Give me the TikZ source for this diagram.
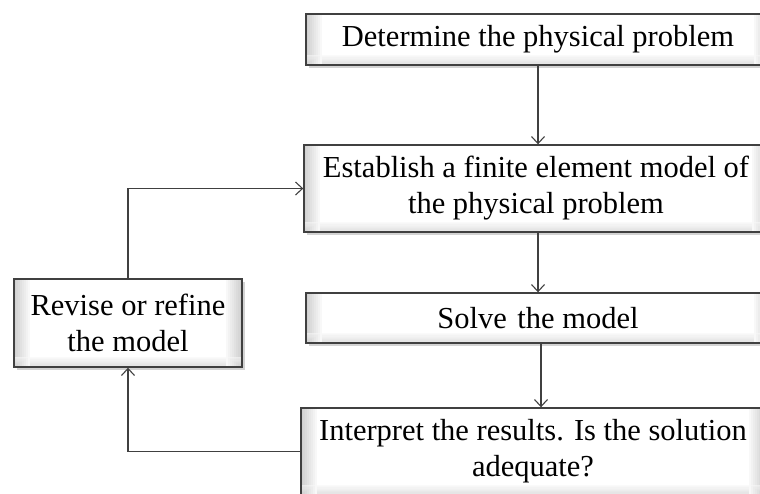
\documentclass[tikz,border=0pt]{standalone}
\usepackage{fontspec}
\setmainfont{Liberation Serif}
\usepackage{tikz}
\usetikzlibrary{arrows.meta,positioning,calc,shadows}
\definecolor{lncol}{RGB}{64,64,64}
\definecolor{bvl}{RGB}{208,208,208}
\tikzset{
  fbox/.style={draw=lncol, line width=1.4pt, fill=white,
      align=center, font=\fontsize{30.5}{36}\selectfont, inner sep=0pt,
      drop shadow={shadow xshift=2.5pt, shadow yshift=-3pt, opacity=0.35},
      path picture={
        % bevel: left, right and bottom edges fade to white
        \foreach \i [evaluate=\i as \c using int(100-12*\i)] in {0,...,7}{
          \fill[bvl!\c] ([xshift=2*\i pt]path picture bounding box.south west)
            rectangle ([xshift=2*\i pt+2pt]path picture bounding box.north west);
          \fill[bvl!\c] ([xshift=-2*\i pt]path picture bounding box.south east)
            rectangle ([xshift=-2*\i pt-2pt]path picture bounding box.north east);
          \fill[bvl!\c, opacity=0.6] ([yshift=1.3*\i pt]path picture bounding box.south west)
            rectangle ([yshift=1.3*\i pt+1.3pt]path picture bounding box.south east);
        }
      }},
  farr/.style={-{Straight Barb[length=7pt,width=13pt]}, lncol, line width=1.1pt},
}
\begin{document}
\begin{tikzpicture}[x=1pt,y=-1pt]
  \useasboundingbox (0,0) rectangle (760,493);
  \clip (0,0) rectangle (760,493);
  \node[fbox, minimum width=464pt, minimum height=51pt] (det) at (538,39.5)
    {Determine the physical problem};
  \node[fbox, minimum width=464pt, minimum height=87pt] (est) at (536,188.5)
    {Establish a finite element model of\\the physical problem};
  \node[fbox, minimum width=464pt, minimum height=50pt] (slv) at (538,318)
    {Solve\kern3pt{} the model};
  \node[fbox, minimum width=464pt, minimum height=87pt] (itp) at (533,451.5)
    {Interpret the results. Is the solution\\adequate?};
  \node[fbox, minimum width=228pt, minimum height=88pt] (rev) at (128,323)
    {Revise or refine\\the model};
  % main flow
  \draw[farr] (det.south) -- (det.south |- est.north);
  \draw[farr] (slv.north |- est.south) -- (slv.north);
  \draw[farr] ($(slv.south)+(3,0)$) -- ($(slv.south |- itp.north)+(3,0)$);
  % loop back
  \draw[farr] (itp.west) -| (rev.south);
  \draw[farr] (rev.north) |- (est.west);
\end{tikzpicture}
\end{document}
